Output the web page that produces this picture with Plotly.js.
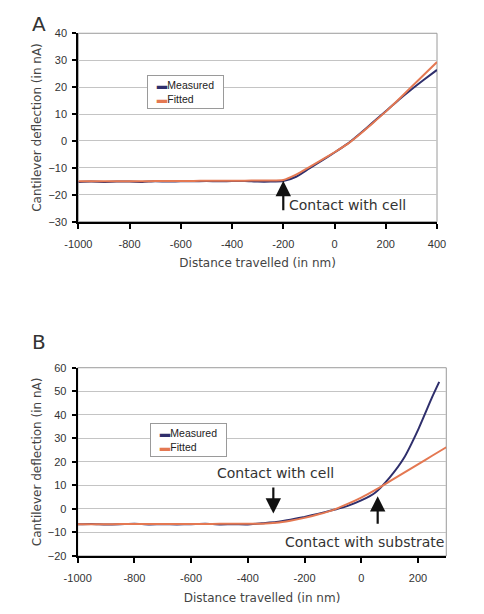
<!DOCTYPE html>
<html>
<head>
<meta charset="utf-8">
<script src="https://cdn.plot.ly/plotly-3.0.1.min.js"></script>
<style>
  html, body { margin: 0; padding: 0; background: #ffffff; }
  #chart { width: 484px; height: 614px; }
</style>
</head>
<body>
<div id="chart"></div>
<script>
// Panel A: approach curve, contact with cell only
const xA = [-1000, -950, -900, -850, -800, -750, -700, -650, -600, -550, -500, -450, -400, -350,
            -300, -250, -200, -150, -100, -50, 0, 50, 100, 150, 200, 250, 300, 350, 400];
const measuredA = [-15.2, -15.1, -15.2, -15.1, -15.1, -15.2, -15.0, -15.1, -15.0, -15.0, -14.9, -15.0, -14.9, -14.9,
                   -15.1, -15.1, -14.9, -13.3, -10.3, -7.3, -4.3, -1.1, 2.8, 6.9, 11.0, 15.2, 19.1, 22.8, 26.4];
const fittedA = [-15.0, -15.0, -15.0, -15.0, -14.95, -14.95, -14.9, -14.9, -14.9, -14.85, -14.8, -14.8, -14.75, -14.75,
                 -14.7, -14.7, -14.5, -12.5, -9.8, -7.0, -4.2, -1.2, 2.6, 6.7, 10.9, 15.4, 20.1, 24.7, 29.3];

// Panel B: approach curve, contact with cell then with substrate
const xBMeasured = [-1000, -950, -900, -850, -800, -750, -700, -650, -600, -550, -500, -450, -400, -350,
                    -300, -250, -200, -150, -100, -50, 0, 50, 100, 150, 200, 250, 275];
const measuredB = [-6.5, -6.4, -6.6, -6.5, -6.3, -6.6, -6.5, -6.6, -6.5, -6.3, -6.6, -6.5, -6.6, -6.1,
                   -5.6, -4.6, -3.4, -2.0, -0.5, 1.2, 3.6, 7.0, 13.3, 21.5, 33.5, 47.5, 54.0];
const xBFitted = [-1000, -950, -900, -850, -800, -750, -700, -650, -600, -550, -500, -450, -400, -350,
                  -300, -250, -200, -150, -100, -50, 0, 50, 100, 150, 200, 250, 300];
const fittedB = [-6.5, -6.5, -6.5, -6.45, -6.45, -6.45, -6.4, -6.4, -6.4, -6.4, -6.35, -6.35, -6.35, -6.3,
                 -5.9, -5.0, -3.8, -2.3, -0.5, 2.0, 4.8, 8.1, 11.7, 15.3, 18.9, 22.6, 26.2];

// Tick labels
const xTicksA = [-1000, -800, -600, -400, -200, 0, 200, 400];
const xTicksB = [-1000, -800, -600, -400, -200, 0, 200];

const navy = '#2f2f6c';
const orange = '#e47852';
const titleFont = { family: 'DejaVu Sans, sans-serif', size: 12, color: '#444444' };
const tickFont = { family: 'Liberation Sans, Arial, sans-serif', size: 11, color: '#333333' };
const noteFont = { family: 'DejaVu Sans, sans-serif', size: 14, color: '#333333' };

const series = [
  { name: 'Measured', color: navy },
  { name: 'Fitted', color: orange }
];

const lineStyle = (c) => ({ color: c, width: 2, shape: 'spline', smoothing: 0.5 });

const traces = [
  { x: xA, y: measuredA, type: 'scatter', mode: 'lines', name: series[0].name,
    line: lineStyle(series[0].color), xaxis: 'x', yaxis: 'y' },
  { x: xA, y: fittedA, type: 'scatter', mode: 'lines', name: series[1].name,
    line: lineStyle(series[1].color), xaxis: 'x', yaxis: 'y' },
  { x: xBMeasured, y: measuredB, type: 'scatter', mode: 'lines', name: series[0].name,
    line: lineStyle(series[0].color), xaxis: 'x2', yaxis: 'y2' },
  { x: xBFitted, y: fittedB, type: 'scatter', mode: 'lines', name: series[1].name,
    line: lineStyle(series[1].color), xaxis: 'x2', yaxis: 'y2' }
];

function xAxis(domain, range, ticks, anchor) {
  return {
    domain: domain, range: range, anchor: anchor,
    tickmode: 'array', tickvals: ticks, ticktext: ticks.map(String),
    ticks: 'outside', ticklen: 5, tickwidth: 2, tickcolor: '#000000',
    ticklabelstandoff: 6,
    showline: true, linecolor: '#000000', linewidth: 2,
    showgrid: false, zeroline: false,
    tickfont: tickFont,
    title: { text: 'Distance travelled (in nm)', font: titleFont, standoff: 10 }
  };
}
function yAxis(domain, range, anchor) {
  return {
    domain: domain, range: range, anchor: anchor, dtick: 10,
    ticks: 'outside', ticklen: 4, tickwidth: 2, tickcolor: '#000000',
    ticklabelstandoff: 3,
    showline: true, linecolor: '#000000', linewidth: 2,
    showgrid: true, gridcolor: '#c4c4c4', gridwidth: 1, zeroline: false,
    tickfont: tickFont,
    title: { text: 'Cantilever deflection (in nA)', font: titleFont, standoff: 4 }
  };
}

// Compact boxed key: a swatch in each series colour followed by its name
function keyBox(x, y) {
  const pad = '\u00a0\u00a0';
  const text = series.map(s => pad + '<span style="color:' + s.color + '">▬</span>' + s.name + pad).join('<br>');
  return {
    xref: 'paper', yref: 'paper', x: x, y: y, xanchor: 'left', yanchor: 'top',
    text: text, align: 'left', showarrow: false,
    bgcolor: '#ffffff', bordercolor: '#9a9a9a', borderwidth: 1, borderpad: 3,
    font: { family: 'Liberation Sans, Arial, sans-serif', size: 10.5, color: '#222222' }
  };
}

const arrow = { showarrow: true, text: '', arrowhead: 2, arrowsize: 1.4, arrowwidth: 2.2,
                arrowcolor: '#111111', standoff: 0 };

const layout = {
  width: 484, height: 614,
  margin: { l: 0, r: 0, t: 0, b: 0 },
  paper_bgcolor: '#ffffff', plot_bgcolor: '#ffffff',
  showlegend: false,
  xaxis: xAxis([0.1618, 0.9029], [-1000, 400], xTicksA, 'y'),
  yaxis: yAxis([0.6389, 0.9458], [-30, 40], 'x'),
  xaxis2: xAxis([0.1605, 0.9221], [-1000, 300], xTicksB, 'y2'),
  yaxis2: yAxis([0.0945, 0.4011], [-20, 60], 'x2'),
  shapes: [
    { type: 'rect', xref: 'x domain', yref: 'y domain', x0: 0, x1: 1, y0: 0, y1: 1,
      line: { color: '#9a9a9a', width: 1 }, layer: 'below' },
    { type: 'rect', xref: 'x2 domain', yref: 'y2 domain', x0: 0, x1: 1, y0: 0, y1: 1,
      line: { color: '#9a9a9a', width: 1 }, layer: 'below' }
  ],
  annotations: [
    // panel letters
    { xref: 'paper', yref: 'paper', x: 30 / 484, y: 1 - 10 / 614, text: 'A', showarrow: false,
      font: { family: 'DejaVu Sans, sans-serif', size: 20, color: '#333333' } },
    { xref: 'paper', yref: 'paper', x: 30 / 484, y: 1 - 342 / 614, text: 'B', showarrow: false,
      font: { family: 'DejaVu Sans, sans-serif', size: 20, color: '#333333' } },
    // keys
    keyBox(147 / 484, 1 - 75 / 614),
    keyBox(150 / 484, 1 - 423 / 614),
    // panel A contact marker
    Object.assign({ xref: 'x', yref: 'y', axref: 'x', ayref: 'y', x: -200, y: -14.8, ax: -200, ay: -26.3 }, arrow),
    { xref: 'x', yref: 'y', x: -184, y: -23.8, xanchor: 'left', text: 'Contact with cell',
      showarrow: false, font: noteFont },
    // panel B contact markers
    Object.assign({ xref: 'x2', yref: 'y2', axref: 'x2', ayref: 'y2', x: -310, y: -2, ax: -310, ay: 9.7 }, arrow),
    { xref: 'x2', yref: 'y2', x: -304, y: 15.1, text: 'Contact with cell',
      showarrow: false, font: noteFont },
    Object.assign({ xref: 'x2', yref: 'y2', axref: 'x2', ayref: 'y2', x: 58, y: 5.4, ax: 58, ay: -6.9 }, arrow),
    { xref: 'x2', yref: 'y2', x: 12, y: -14, text: 'Contact with substrate',
      showarrow: false, font: noteFont }
  ]
};

Plotly.newPlot('chart', traces, layout, { staticPlot: true, displayModeBar: false });
</script>
</body>
</html>
